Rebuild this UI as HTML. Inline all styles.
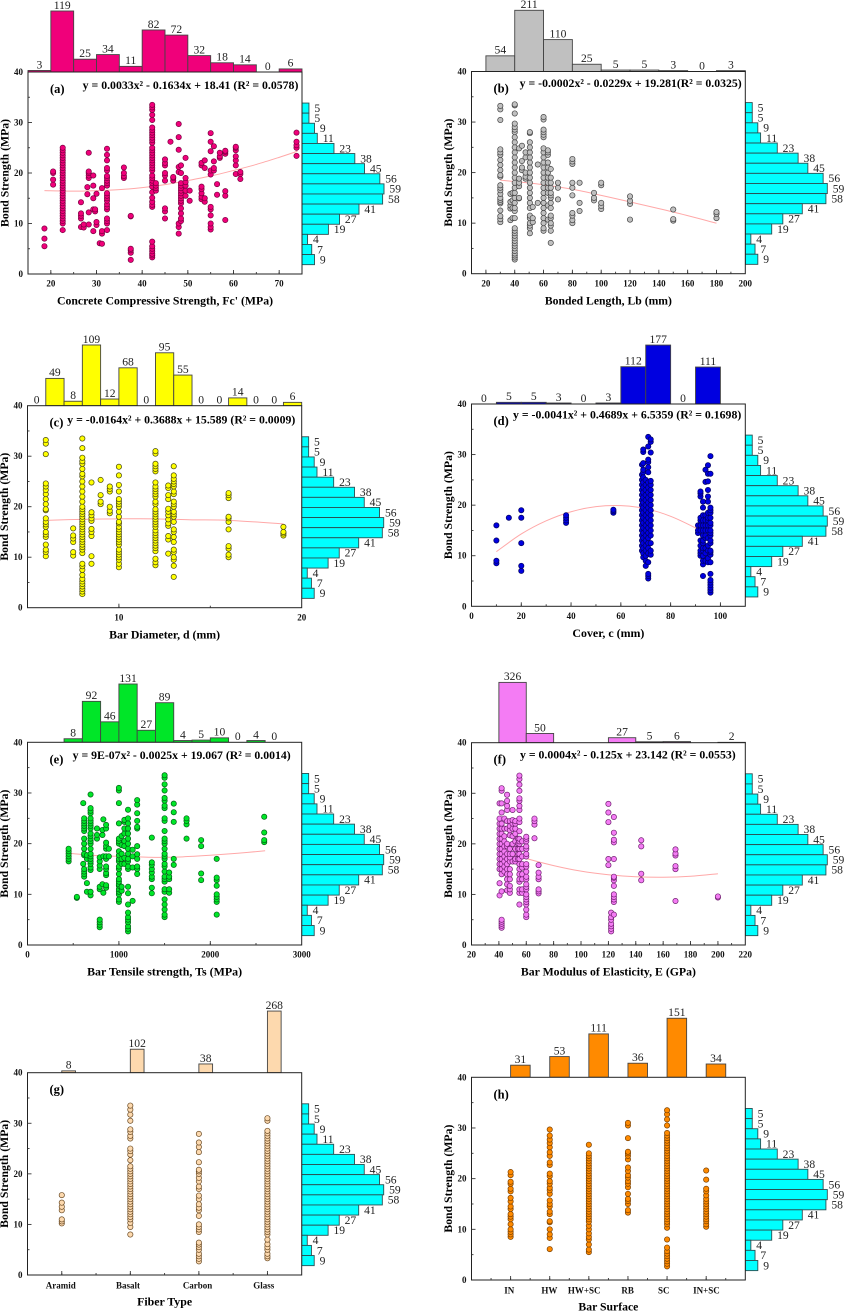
<!DOCTYPE html>
<html lang="en">
<head>
<meta charset="utf-8">
<title>Bond strength marginal histogram charts</title>
<style>
html,body{margin:0;padding:0;background:#fff;}
svg{display:block;font-family:"Liberation Serif",serif;filter:blur(.35px);}
</style>
</head>
<body>
<svg id="figure" width="844" height="1311" viewBox="0 0 844 1311" xmlns="http://www.w3.org/2000/svg"></svg>
<script>
// Shared marginal histogram of bond strength (top bin to bottom bin)
const strengthCounts = [5,5,9,11,23,38,45,56,59,58,41,27,19,4,7,9];
const strengthBinFirst = 33.85;
const strengthBinWidth = 2;

// Panel (a)
const aTopCounts = [3,119,25,34,11,82,72,32,18,14,0,6];
const aXTicks = [20,30,40,50,60,70];
const aTrendX = [18.6,25,30,35,40,45,50,55,60,65,70,74];
const aTrendY = [16.5,16.4,16.5,16.7,17.1,17.7,18.5,19.4,20.5,21.7,23.1,24.3];
const aColumns = [
[18.6,[5.5,7,9]],[20.5,[17.7,18.7,20,20.3]],
[22.6,[8.7,10,10.5,11,11.5,12,12.5,13,13.5,14,14.5,15,15.5,16,16.5,17,17.5,18,18.5,19,19.5,20,20.5,21,21.5,22,22.5,23,23.5,24,24.5,25]],
[26.6,[9.3,11,11.5,12,14.2]],[27.2,[9.2,9.8]],[28,[15.8,17.2]],[28.3,[9.8,12.2,19,19.5,20,20.3,24]],
[29.3,[8.5,12.8,15,17.5,19.5]],[29.7,[12.4,12.8]],[30,[9.7,10.3,15.9]],[30.7,[6.1]],[31.2,[6,8,8.5,17]],
[32.3,[8.7,10,10.5,11,12.8,13.3,13.8,14.5,15,15.5,16,17.5,18,18.5,19,19.4,20.5,21,22.5,23.6,24.8]],
[36,[19,19.4,20,21.1]],[37.5,[2.8,4.2,4.7,5,11.4,11.5]],
[42.2,[3.3,3.7,4,4.5,5,5.5,6.4,13.3,13.7,14.3,15.1,16.2,17.3,18,18.5,19,19.5,20.5,21,21.5,22,22.5,23,23.5,24,24.5,25,26,26.5,27,27.5,28,28.5,29,30.5,31.5,32.5,33,33.5]],
[43,[16.5,17,17.5,18]],[45,[11,12.4,13,18.5,19.5,20,21.5,22,22.7]],[46.2,[26.2]],[46.8,[18.5,19,19.2]],
[48,[8,9.3,10,20.2,21.2,24.6,27.1,29.7]],[48.5,[10.5,11,12,13,14,14.5,15,15.5,16,16.5,17,17.5,18,20,21.5]],
[49.5,[15.5,16.5,17.5,18.2,19,23]],[50.4,[14.5,16.5]],[53,[14.8,15.3,16,16.8,17.3,21.5,22]],[53.7,[14.3,15,21,22.5]],
[55,[8.8,9.3,10,11.6,12.8,13.3,19.7,20.5,24.3,26.2,27.9]],[55.7,[20.5,21,22.3,25.3]],[56.4,[15.7,17.8]],[57,[23,23.3,24]],
[58.2,[10.7,15.5,16.4,23.8,24.2,24.4]],[60.5,[19.8,21.5,22.5,23.3,24.5,25,25.2]],[61.5,[18.8,19.8,20.2]],[73.8,[23.4,25,25.5,26.2,28]]
];

// Panel (b)
const bTopCounts = [54,211,110,25,5,5,3,0,3];
const bXTicks = [20,40,60,80,100,120,140,160,180,200];
const bTrendX = [30,45,60,80,100,120,150,180];
const bTrendY = [18.5,18.1,17.6,16.7,15.5,14.2,12.2,10];
const bColumns = [
[30,[10.2,10.8,11.4,12.5,13.9,14.2,14.6,15,15.8,16.5,17,17.5,19.2,19.5,20.5,21.5,22.5,23.5,24,24.6,30.4,32.5,33.2]],
[37,[10.6,12.9,13.5,14.2,15.8]],[38.5,[11,13,14.5,16]],
[40,[2.8,3.2,3.6,4,4.5,5,5.5,6,6.5,7,7.5,8,8.5,9,11,12.4,13,14,15,16,17,18,19,20,21,22,23,24,25,26,27,28,28.5,29,29.7,31.7,33.3,33.5]],
[43,[14.9,15,17.3,18,18.8,24.8]],[45,[20.5,21,22.3,25.3]],[47.5,[18.8,19.2,20,23,24]],
[50.5,[8,9,9.5,10,11,11.5,13,14,15,16,17,18,19,20,21,22,23,24,25,26,27.8,28]],[52.5,[10.2,11,13.2]],[56,[14,21.6]],
[60,[8.5,9,10,11,12,13,14,15,16,17,18,19,20,21,22,23,24,24.8,27,27.5,28,28.5,30.5,31]],
[63,[10.7,13.5,16,17,18,19,20,21,22,23.5,24,24.4]],[65,[6.1,8.5,9.5,10,11,11.5,13,14,15,15.5,16,17,18,19,20.7]],
[70,[14.7,17,18]],[80,[10,10.6,11.5,12,15.5,17,18,21.7,22.2,22.7]],[85,[12.4,14,18]],[95,[14.5,15,16]],
[100,[12.8,13.4,14,17.5,18]],[120,[10.7,13.8,14.4,15.3]],[150,[10.5,10.8,12.7]],[180,[11,11.8,12.2]]
];

// Panel (c)
const cTopCounts = [0,49,8,109,12,68,0,95,55,0,0,14,0,0,6];
const cXTicks = [10,20];
const cTrendX = [6,8,10,12,14,16,19];
const cTrendY = [17.3,17.5,17.6,17.6,17.4,17.3,16.6];
const cColumns = [
[6,[10.2,11,11.5,12.5,14,14.5,15,16,16.5,17,17.7,19.3,19.5,20.5,21.5,22.5,23.3,24,24.6,30.4,32.5,33.2]],
[7.5,[10.3,11,13,13.7,14.3,15.7]],
[8,[2.7,3.2,3.7,4.2,4.7,5.2,5.7,6.5,7.5,8.2,8.7,10.8,11.5,12,12.5,13,13.5,14,14.5,15,15.5,16,16.5,17,17.5,18,18.5,19,19.5,20,21,22,23,24,25,26,26.5,27.5,28.5,29,29.7,31.6,33.5]],
[8.5,[8.7,10.2,14.2,15,15.6,17.2,17.7,18.3,18.9,24.8]],[9,[20.5,21,22.3,25.3]],[9.5,[18.7,19.2,20,23,23.5,24]],
[10,[8,8.7,9.5,10,10.5,11,11.5,12.5,13,13.5,14,14.5,15,15.5,16,16.7,17,18,19,20,20.5,21,21.5,23,24.3,26.2,27.9]],
[12,[8.4,9,9.7,11.2,11.8,12.3,12.8,13.3,13.8,14.3,14.8,15.3,16,16.5,17,17.5,18,18.5,19,19.5,20.5,21,22,22.5,23,23.5,24,24.8,27,27.5,28,28.5,30.5,31]],
[12.7,[10.7,13.5,14.2,16.2,16.7,17.5,18.3,19,19.6,21.5,22.3,23.7,24.2]],
[13,[6.1,8.3,9.5,10,11,11.5,13,14,15,15.5,17,18,18.5,19,20,20.5,21,22.5,23,24,24.5,25,25.5,26.2,28]],
[16,[10,10.5,11.7,12.2,15.5,17,17.7,18,21.7,22.3,22.7]],[19,[14.3,14.7,15,16]]
];

// Panel (d)
const dTopCounts = [0,5,5,3,0,3,112,177,0,111];
const dXTicks = [0,20,40,60,80,100];
const dTrendX = [10,20,30,40,50,60,70,80,90,96];
const dTrendY = [10.8,14.3,16.9,18.7,19.7,19.9,19.3,17.8,15.5,13.8];
const dColumns = [
[10,[8.5,9,13,16]],[15,[17.5]],[20,[7,8,12.5,17.5,19]],[38,[16.5,17,17.5,18]],[57,[18.5,18.8,19.1]],
[68.5,[11,12,13,14,15,16,17,18,19,20,21,22,23,24,25,26,28]],
[69,[9.7,10.5,11.5,12.5,13.5,14.5,15.5,16.5,17.5,18.5,19.5,20.5,21.5,22.5,23.5,24.5,25.5,26.5,27,28.3,30.5,31]],
[70,[8,9,10,11,12,13,14,15,16,17,18,19,20,21,22,23,24,25]],
[71,[5.5,6,6.4,8.7,10.5,11.5,12.5,13.5,14.5,15.5,16.5,17.5,18.5,19.5,20.5,21.5,22.5,23.5,24.5,26.5,27.5,28.5,29,31.6,33.5]],
[72,[10.2,11,12.5,14,15,16,17,18,19,20,21,22,23,24,24.8,30.4,32.5,33]],
[91,[14.5,15,16]],[92,[10,10.5,11,12,13,15,16,17,17.5,21.7,22.3,22.7]],
[93,[6,8.3,9,10,11,11.5,12.5,13,14,15,16,17,18,19.5,20.7]],[94,[9,10.5,11.5,13.5,14,15,16,17,18,24.6,27]],
[95,[8.7,9.5,11,12,13.5,15,16,17,17.5,18.5,20.7,21.7,23,24.7,26.2,27.9]],
[96,[2.7,3.2,3.7,4.2,4.7,5.2,6.4,8.7,10.2,10.7,11,12.5,13,14,14.5,15,16,16.5,17.5,18.5,19,19.5,26.2,29.7]]
];

// Panel (e)
const eTopCounts = [8,92,46,131,27,89,4,5,10,0,4,0];
const eXTicks = [0,1000,2000,3000];
const eTrendX = [450,800,1000,1400,1700,2000,2300,2600];
const eTrendY = [18.1,17.6,17.5,17.3,17.4,17.7,18.1,18.6];
const eColumns = [
[450,[16.5,17,17.5,18,18.5,19]],[540,[9.3,9.5]],[610,[16,28]],
[620,[13.5,14,14.5,15,17.7,18,19,20,21,22.5,23,23.5,24,24.5,25]],[650,[10.5,12.2,17,17.7]],
[690,[9.8,10.5,14.8,15.3,16,16.5,17,17.5,18,19,20,20.5,21,21.5,22,23,23.5,24,24.5,25,26,26.5,27,29.7]],
[760,[21,21.7,23]],[790,[3.5,4,4.5,5,11,11.5,15,15.7,16.5,17.3]],[820,[12,21.7,22.7]],[830,[10.3,17.5,24.8]],
[860,[11.3,11.8,13.8,14.2,15,15.5,17,17.5,19,19.5,20.2,23,23.7]],[890,[17.5,19]],
[1000,[8.5,9,10,10.5,11,11.7,12,12.5,13,14,15,15.5,16.5,17,17.7,18.5,20,20.5,21,24,28,30.5,31]],
[1030,[10.7,11.5,16,17,18,19.7,21.5]],[1060,[16,17.2,19.5,20.5,22,23,24.3,24.7]],
[1100,[2.7,3.2,3.7,4.5,5,5.5,6.4,8,10.2,11.5,15,15.5,16.5,17,18,19,20,21,22,23,24,25,26.7]],
[1150,[8.7,15.3,17.5,18.8]],[1200,[14,15,15.5,17,17.9,19.5,23,23.3,24.5,26,27.7,28.6]],
[1360,[10.2,11.3,13,13.5,14.3,15,15.8,16.3,21.2]],
[1500,[5.5,6,7,8,9,10.5,11,12.5,13,13.5,14.5,15.5,16,17,17.5,18,19,20,20.5,21,22.5,24.5,25,27,27.5,28.5,29,30.5,31.7,33,33.5]],
[1550,[10.3,11,13,13.5,14.3]],[1600,[15.8,17,24.3,26.2,27.9]],[1740,[21,23.8,24.5,25]],[1900,[12.8,14.1,19.5,20.7]],
[2070,[6,8.5,9,9.5,10,11.7,12.8,13.3,17]],[2590,[20.3,20.7,22.2,25.3]]
];

// Panel (f)
const fTopCounts = [326,50,0,0,27,5,6,0,2];
const fXTicks = [20,40,60,80,100,120,140,160,180,200,220];
const fTrendX = [42,60,80,100,120,140,160,180,200];
const fTrendY = [18.6,17.1,15.7,14.6,13.9,13.5,13.4,13.6,14.1];
const fColumns = [
[40.5,[9.8,12.2,15,16,17,18,19,20,21,22,23,24,25,28]],
[42,[3.4,3.8,4.2,4.6,5,10.6,14,15,16,17,18,19,20,21,22,23,24,26.2,28,30.5,31]],
[44,[14.5,15.5,16.5,17.5,18.5,19.5,20.5,21.5,23,25]],
[46,[10.8,12,13,14,15,16,17,18,19.5,20,23,24.5,26.7,27.5,28.5,29.7]],
[48,[10.3,11,11.7,13,14,15,16.5,17.3,18,19,21.7,22.7,23.5,24.5]],
[50,[16.5,18,20,21.5,23,24,24.7,26.7]],[52,[16.5,17,19,20.5,22,23,24,24.5]],[54,[17,18,19,20,21]],
[55,[8,10.3,11,12.5,13,14,15,16,17,18,19,20,20.5,21,22.5,24.3,25,26.7,27.5,28.5,29,30.5,31.7,32.8,33.5]],
[57,[10.3,11,13,14,15.3,16,17.5,19,20.5]],
[60,[5.5,6,7,8,8.5,9,9.5,10,11,11.5,12,13,13.5,14.5,15.5,16,17.5,18,19,19.5,20.5,21,21.4]],
[66,[21.1,23.8,24.5,25]],[69,[10.2,10.6,11,13,13.5,14.3,15.8]],[120,[15.8,17,24.3,26.2,27.9]],
[122,[2.7,3.2,3.7,4.2,5,5.5,6.4]],[124,[6,8.5,9,9.5,10,11.7,12.8,13.3,13.5,17,20.3,20.8,22.2,25.3]],
[144,[12.8,14.1,19.5,20.7]],[169,[8.7,15,15.6,17.7,18.1,18.9]],[200,[9.4,9.6]]
];

// Panel (g)
const gCategories = ['Aramid','Basalt','Carbon','Glass'];
const gTopCounts = [8,102,38,268];
const gColumns = [
[1,[10.2,10.6,11,12.8,13.5,14.3,15.8]],
[2,[8,9.5,10.3,11,11.5,12,12.5,13,13.5,14,14.5,15,15.5,16,16.5,17,17.5,18,18.5,19,19.5,20,20.5,21,21.5,22.7,23.8,24.5,25,27,27.5,28.3,28.8,30.5,31.7,32.7,33.5]],
[3,[2.7,3.2,3.7,4.2,5,5.5,6,6.4,8.5,9,9.5,10,11.7,12.8,13.3,14,15,15.7,17,17.5,18.5,19.2,20,20.5,20.8,22.3,24.3,25.3,26.2,27.9]],
[4,[3.3,3.7,4.2,5,5.5,6.1,7,8,8.5,9,9.5,10,10.5,11,11.5,12,12.5,13,13.5,14,14.5,15,15.5,16,16.5,17,17.5,18,18.5,19,19.5,20,20.5,21,21.5,22,22.5,23,23.5,24,24.5,25,25.5,26,26.5,27,27.5,28,28.5,30.5,31]]
];

// Panel (h)
const hCategories = ['IN','HW','HW+SC','RB','SC','IN+SC'];
const hTopCounts = [31,53,111,36,151,34];
const hColumns = [
[1,[8.5,9,9.5,10,11,12,12.5,13,14,14.5,15.5,16.2,17.5,18,19,19.4,20.7,21.3]],
[2,[6.1,8.3,9,10,11.4,11.6,13,13.5,14.5,15,15.7,17,17.7,18.2,19,19.5,20.5,21,22.7,23.2,24.5,25.2,26.2,27,27.7,28.5,29.7]],
[3,[5.5,6,7,8,8.5,9.2,10,10.7,11.5,12,12.5,13,13.5,14,14.5,15,15.5,16,16.5,17,17.5,18,18.5,19,19.5,20,20.5,21,21.5,22,22.5,23,23.5,24,24.5,25,26.7]],
[4,[13.3,13.8,15,15.6,16,17,18.3,19,19.5,20.2,20.7,21.5,22.2,23.8,24.5,25,25.3,28,30.5,31]],
[5,[2.7,3.2,3.7,4.2,4.7,5.2,5.7,6.4,8,10.3,11,11.5,12,12.5,13,13.5,14,14.5,15,15.5,16,16.5,17,17.5,18,18.5,19,19.5,20,20.5,21,21.5,22,22.5,23,23.5,24,24.5,25,25.5,26,26.5,27,27.5,28,28.5,29,30.5,31.7,32.7,33.5]],
[6,[10.5,11,11.6,12,12.5,13,13.5,14,14.5,15,15.5,16,16.7,17.5,18,19.8,21.6]]
];

const yMajorTicks = [0,10,20,30,40];
const yMinorTicks = [5,15,25,35];

// Panel layout and styling
const panels = [
 {id:'a',L:28,R:302,T:72,B:274,x0:15,x1:75,binStart:15,binW:5,counts:aTopCounts,cols:aColumns,ticks:aXTicks,minorStep:5,tx:aTrendX,ty:aTrendY,barScale:.5126,fill:'#f0007a',edge:'#7a0040',title:"Concrete Compressive Strength, Fc' (MPa)",titleW:216,eq:'y = 0.0033x² - 0.1634x + 18.41 (R² = 0.0578)',eqX:82.7,eqY:89,eqW:215.7},
 {id:'b',L:471.5,R:745.3,T:71.5,B:273.7,x0:10,x1:200,binStart:20,binW:20,counts:bTopCounts,cols:bColumns,ticks:bXTicks,minorStep:10,tx:bTrendX,ty:bTrendY,barScale:.29,fill:'#c0c0c0',edge:'#444444',title:'Bonded Length, Lb (mm)',titleW:127,eq:'y = -0.0002x² - 0.0229x + 19.281(R² = 0.0325)',eqX:519.7,eqY:87,eqW:222},
 {id:'c',L:27.5,R:301.7,T:405.7,B:607.7,x0:5,x1:20,binStart:5,binW:1,counts:cTopCounts,cols:cColumns,ticks:cXTicks,minorStep:5,tx:cTrendX,ty:cTrendY,barScale:.557,fill:'#ffff00',edge:'#444411',title:'Bar Diameter, d (mm)',titleW:111,eq:'y = -0.0164x² + 0.3688x + 15.589 (R² = 0.0009)',eqX:67.3,eqY:423.7,eqW:228},
 {id:'d',L:471.5,R:745.3,T:404,B:606.3,x0:0,x1:110,binStart:0,binW:10,counts:dTopCounts,cols:dColumns,ticks:dXTicks,minorStep:10,tx:dTrendX,ty:dTrendY,barScale:.333,fill:'#0000e0',edge:'#000060',title:'Cover, c (mm)',titleW:72,eq:'y = -0.0041x² + 0.4689x + 6.5359 (R² = 0.1698)',eqX:513,eqY:418.7,eqW:228.3},
 {id:'e',L:27.5,R:301.7,T:742.3,B:945,x0:0,x1:3000,binStart:400,binW:200,counts:eTopCounts,cols:eColumns,ticks:eXTicks,minorStep:500,tx:eTrendX,ty:eTrendY,barScale:.445,fill:'#00e628',edge:'#006014',title:'Bar Tensile strength, Ts (MPa)',titleW:155,eq:'y = 9E-07x² - 0.0025x + 19.067 (R² = 0.0014)',eqX:72.7,eqY:759,eqW:218},
 {id:'f',L:471.5,R:745.3,T:742.7,B:945,x0:20,x1:220,binStart:40,binW:20,counts:fTopCounts,hideZero:true,cols:fColumns,ticks:fXTicks,minorStep:10,tx:fTrendX,ty:fTrendY,barScale:.185,fill:'#f47cf4',edge:'#702070',title:'Bar Modulus of Elasticity, E (GPa)',titleW:175,eq:'y = 0.0004x² - 0.125x + 23.142 (R² = 0.0553)',eqX:520,eqY:758.3,eqW:215.7},
 {id:'g',L:27.5,R:301.7,T:1072.7,B:1275,x0:.5,x1:4.5,catBarW:.2,categories:gCategories,catShift:[-1,-2.3,-1.3,-3.7],counts:gTopCounts,cols:gColumns,minorStep:.5,barScale:.23,fill:'#fdd9ae',edge:'#6a4a24',title:'Fiber Type',titleW:55},
 {id:'h',L:471.5,R:745.3,T:1077.3,B:1280,x0:0,x1:7,catBarW:.5,categories:hCategories,catShift:[-1.3,-.3,-4.7,-.3,-3.3,.3],counts:hTopCounts,cols:hColumns,minorStep:.5,barScale:.391,fill:'#ff8a00',edge:'#7a4000',title:'Bar Surface',titleW:60}
];

const NS = 'http://www.w3.org/2000/svg';
const svg = document.getElementById('figure');
function mk(parent, tag, attrs, text){
  const e = document.createElementNS(NS, tag);
  for(const k in attrs) e.setAttribute(k, attrs[k]);
  if(text !== undefined) e.textContent = text;
  parent.appendChild(e);
  return e;
}
function smoothPath(pts){
  let d = 'M' + pts[0][0].toFixed(2) + ' ' + pts[0][1].toFixed(2);
  for(let i = 0; i < pts.length - 1; i++){
    const p0 = pts[Math.max(i-1,0)], p1 = pts[i], p2 = pts[i+1], p3 = pts[Math.min(i+2,pts.length-1)];
    const c1 = [p1[0]+(p2[0]-p0[0])/6, p1[1]+(p2[1]-p0[1])/6];
    const c2 = [p2[0]-(p3[0]-p1[0])/6, p2[1]-(p3[1]-p1[1])/6];
    d += ' C' + c1[0].toFixed(2) + ' ' + c1[1].toFixed(2) + ' ' + c2[0].toFixed(2) + ' ' + c2[1].toFixed(2) + ' ' + p2[0].toFixed(2) + ' ' + p2[1].toFixed(2);
  }
  return d;
}

panels.forEach(function(p){
  const g = mk(svg, 'g', {});
  
  
  const xs = function(v){ return p.L + (v - p.x0) / (p.x1 - p.x0) * (p.R - p.L); };
  const ys = function(v){ return p.B - v / 40 * (p.B - p.T); };

  // Top histogram
  p.counts.forEach(function(c, i){
    const a = p.categories ? i + 1 : p.binStart + i * p.binW;
    const b = p.categories ? i + 1 + p.catBarW : a + p.binW;
    const h = c * p.barScale;
    if(c > 0){
      const bar = mk(g, 'rect', {x:xs(a), y:p.T - h, width:xs(b) - xs(a), height:h, fill:p.fill, stroke:'#444', 'stroke-width':.9});
      
      
    }
    if(c > 0 || !p.hideZero){
      const t = mk(g, 'text', {x:(xs(a) + xs(b)) / 2, y:p.T - h - 2.2, 'text-anchor':'middle', 'font-size':11.6, fill:'#222'}, String(c));
      
      
    }
  });

  // Right histogram
  strengthCounts.forEach(function(c, i){
    const top = strengthBinFirst - i * strengthBinWidth;
    const y1 = ys(top), y2 = ys(top - strengthBinWidth), w = c * 1.39;
    const bar = mk(g, 'rect', {x:p.R, y:y1, width:w, height:y2 - y1, fill:'#00ffff', stroke:'#2c4f52', 'stroke-width':.9});
    
    
    const t = mk(g, 'text', {x:p.R + w + 5.4, y:(y1 + y2) / 2 + 3.8, 'font-size':11.6, fill:'#222'}, String(c));
    
    
  });

  // Plot box
  const box = mk(g, 'rect', {x:p.L, y:p.T, width:p.R - p.L, height:p.B - p.T, fill:'#fff', stroke:'#222', 'stroke-width':1});
  
  

  // Y axis
  yMajorTicks.forEach(function(v){
    const y = ys(v);
    if(v > 0 && v < 40){
      const tk = mk(g, 'line', {x1:p.L, x2:p.L + 4, y1:y, y2:y, stroke:'#333', 'stroke-width':.9});
      
      
    }
    const t = mk(g, 'text', {x:p.L - 5, y:y + 3, 'text-anchor':'end', 'font-size':9, 'font-weight':'bold', fill:'#111'}, String(v));
    
    
  });
  yMinorTicks.forEach(function(v){
    const tk = mk(g, 'line', {x1:p.L, x2:p.L + 2, y1:ys(v), y2:ys(v), stroke:'#333', 'stroke-width':.9});
    
    
  });
  const yt = mk(g, 'text', {transform:'translate(' + (p.L - 19.5) + ' ' + ((p.T + p.B) / 2) + ') rotate(-90)', 'text-anchor':'middle', 'font-size':11.5, 'font-weight':'bold', fill:'#000', textLength:108, lengthAdjust:'spacingAndGlyphs'}, 'Bond Strength (MPa)');
  
  

  // X axis minor ticks
  const nMinor = Math.round((p.x1 - p.x0) / p.minorStep);
  const firstMinor = Math.ceil(p.x0 / p.minorStep) * p.minorStep;
  for(let i = 0; i <= nMinor; i++){
    const v = firstMinor + i * p.minorStep;
    if(v <= p.x0 || v >= p.x1) continue;
    const tk = mk(g, 'line', {x1:xs(v), x2:xs(v), y1:p.B, y2:p.B - 2, stroke:'#333', 'stroke-width':.9});
    
    
  }
  // X axis major ticks and labels
  if(p.categories){
    p.categories.forEach(function(name, i){
      const x = xs(i + 1);
      const tk = mk(g, 'line', {x1:x, x2:x, y1:p.B, y2:p.B - 4, stroke:'#333', 'stroke-width':.9});
      
      
      const t = mk(g, 'text', {x:x + p.catShift[i], y:p.B + 13.5, 'text-anchor':'middle', 'font-size':9, 'font-weight':'bold', fill:'#111'}, name);
      
      
    });
  } else {
    p.ticks.forEach(function(v){
      const x = xs(v);
      if(v > p.x0 && v < p.x1){
        const tk = mk(g, 'line', {x1:x, x2:x, y1:p.B, y2:p.B - 4, stroke:'#333', 'stroke-width':.9});
        
        
      }
      const t = mk(g, 'text', {x:x, y:p.B + 12.7, 'text-anchor':'middle', 'font-size':9, 'font-weight':'bold', fill:'#111'}, String(v));
      
      
    });
  }
  const xt = mk(g, 'text', {x:(p.L + p.R) / 2, y:p.B + 30.6, 'text-anchor':'middle', 'font-size':11.5, 'font-weight':'bold', fill:'#000', textLength:p.titleW, lengthAdjust:'spacingAndGlyphs'}, p.title);
  
  

  // Trend line, drawn beneath the points
  if(p.tx){
    const pts = p.tx.map(function(v, i){ return [xs(v), ys(p.ty[i])]; });
    const tr = mk(g, 'path', {d:smoothPath(pts), fill:'none', stroke:'#ffa8a8', 'stroke-width':1});
    
    
  }

  // Scatter points
  p.cols.forEach(function(col){
    col[1].forEach(function(v){
      const c = mk(g, 'circle', {cx:xs(col[0]), cy:ys(v), r:2.65, fill:p.fill, stroke:p.edge, 'stroke-width':.7});
      
      
    });
  });

  // Fit equation
  if(p.eq){
    const eq = mk(g, 'text', {x:p.eqX, y:p.eqY, 'font-size':11.4, 'font-weight':'bold', fill:'#000', textLength:p.eqW, lengthAdjust:'spacingAndGlyphs'}, p.eq);
    
    
  }

  // Panel letter
  const lb = mk(g, 'text', {x:p.L + 22, y:p.T + 21, 'font-size':12.5, 'font-weight':'bold', fill:'#000'}, '(' + p.id + ')');
  
  
});
</script>
</body>
</html>
